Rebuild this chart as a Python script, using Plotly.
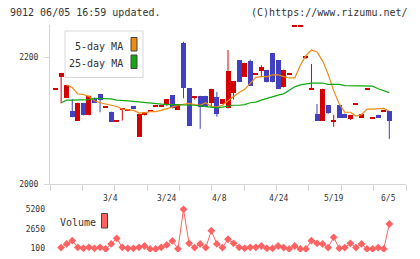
import plotly.graph_objects as go

# ---------------- data ----------------
candle_idx = list(range(-1, 60))
opens  = [2149, 2168, 2136, 2115, 2100, 2128, 2108, 2136, 2142, 2121, 2114,
          2100, 2118, 2116, 2123, 2074, 2108, 2115, 2122, 2122, 2126,
          2140, 2117, 2222, 2151, 2136, 2138, 2139, 2128, 2137, 2126,
          2119, 2144, 2195, 2169, 2194, 2174, 2178, 2180, 2206, 2195,
          2152, 2174, 2249, 2249, 2200, 2150, 2111, 2100, 2124, 2100,
          2124, 2111, 2102, 2126, 2104, 2150, 2104, 2109, 2115, 2115]
highs  = [2149, 2175, 2156, 2134, 2128, 2128, 2139, 2136, 2142, 2121, 2114,
          2100, 2118, 2116, 2123, 2111, 2113, 2115, 2124, 2124, 2134,
          2140, 2126, 2224, 2151, 2138, 2139, 2139, 2150, 2145, 2134,
          2211, 2162, 2195, 2191, 2196, 2174, 2187, 2180, 2206, 2195,
          2180, 2174, 2249, 2249, 2202, 2189, 2126, 2150, 2124, 2109,
          2124, 2111, 2109, 2126, 2110, 2150, 2104, 2109, 2115, 2115]
lows   = [2149, 2127, 2136, 2105, 2100, 2108, 2108, 2128, 2113, 2121, 2098,
          2100, 2100, 2116, 2118, 2074, 2108, 2115, 2122, 2122, 2123,
          2119, 2117, 2135, 2091, 2133, 2087, 2122, 2122, 2106, 2126,
          2119, 2133, 2161, 2169, 2155, 2174, 2170, 2160, 2160, 2150,
          2152, 2174, 2249, 2249, 2197, 2150, 2100, 2100, 2110, 2090,
          2104, 2104, 2101, 2126, 2104, 2150, 2104, 2104, 2115, 2071]
closes = [2149, 2175, 2156, 2105, 2128, 2108, 2139, 2128, 2133, 2121, 2098,
          2100, 2118, 2116, 2118, 2111, 2113, 2115, 2124, 2124, 2134,
          2119, 2126, 2151, 2091, 2138, 2122, 2122, 2150, 2111, 2134,
          2178, 2162, 2161, 2191, 2155, 2174, 2184, 2160, 2160, 2150,
          2180, 2174, 2249, 2249, 2200, 2150, 2100, 2150, 2112, 2100,
          2104, 2104, 2109, 2126, 2110, 2150, 2104, 2104, 2115, 2100]

day_idx = list(range(0, 60))
ma5  = [None, 2156, 2152, 2142, 2141, 2138, 2131, 2128, 2126, 2125,
        2122, 2118, 2117, 2116, 2112, 2112, 2114, 2114, 2116, 2118,
        2121, 2124, 2125, 2127, 2125, 2124, 2128, 2122, 2121, 2124,
        2131, 2138, 2144, 2149, 2159, 2168, 2169, 2169, 2172, 2172,
        2169, 2167, 2167, 2187, 2202, 2211, 2208, 2194, 2173, 2147,
        2126, 2113, 2113, 2107, 2109, 2118, 2118, 2119, 2119, 2115]
ma25 = [2128, 2132, 2132, 2132, 2132, 2133, 2135, 2135, 2134, 2134,
        2132, 2132, 2131, 2130, 2129, 2128, 2127, 2126, 2125, 2125,
        2125, 2125, 2125, 2124, 2124, 2123, 2122, 2121, 2120, 2121,
        2123, 2124, 2124, 2125, 2128, 2129, 2132, 2135, 2138, 2140,
        2142, 2147, 2153, 2156, 2158, 2159, 2159, 2159, 2157, 2157,
        2157, 2155, 2155, 2155, 2155, 2155, 2154, 2150, 2147, 2144]
volume = [190, 670, 1100, 230, 100, 230, 100, 230, 20, 670,
          1410, 230, 100, 100, 230, 400, 20, 20, 230, 540,
          1060, 30, 5200, 750, 190, 670, 190, 2410, 670, 190,
          1280, 750, 230, 100, 230, 230, 400, 100, 100, 400,
          190, 20, 400, 20, 20, 1100, 750, 670, 190, 1540,
          100, 190, 750, 190, 670, 20, 20, 190, 20, 3280]

date_labels = ["3/4", "3/24", "4/8", "4/24", "5/19", "6/5"]
date_label_pos = [8.9, 18.9, 28.4, 39.0, 48.9, 58.9]

# ---------------- style ----------------
RED = "#d40000"
BLUE = "#4040c0"
ORANGE = "#f08a10"
GREEN = "#12a812"
VOLC = "#ff6262"
AXC = "#d6d6d6"
TXT = "#333333"
MONO = "DejaVu Sans Mono"

W, H = 420, 259
L, R, T, B = 50, 14, 25, 7
PW, PH = W - L - R, H - T - B
X0, X1 = -2, 62
P0, P1 = 2000, 2250.4
V0, V1 = -384, 5762


def px(x):
    return (x - L) / PW


def py(y):
    return (H - B - y) / PH


price_dom = [py(184), 1]
vol_dom = [0, py(205)]
min_h = 2 * (P1 - P0) / 159.0

body_base, body_h, body_col = [], [], []
for o, c in zip(opens, closes):
    lo, hi = min(o, c), max(o, c)
    if hi - lo < min_h:
        mid = (hi + lo) / 2
        lo, hi = mid - min_h / 2, mid + min_h / 2
    body_base.append(lo)
    body_h.append(hi - lo)
    body_col.append(RED if c >= o else BLUE)

fig = go.Figure()

for col in (RED, BLUE):
    wx, wy = [], []
    for i, o, h, l, c in zip(candle_idx, opens, highs, lows, closes):
        if (RED if c >= o else BLUE) == col and h > l:
            wx += [i, i, None]
            wy += [l, h, None]
    fig.add_trace(go.Scatter(x=wx, y=wy, mode="lines", line=dict(color=col, width=1),
                             hoverinfo="skip", showlegend=False, xaxis="x", yaxis="y"))

fig.add_trace(go.Bar(x=candle_idx, y=body_h, base=body_base, width=0.9,
                     marker=dict(color=body_col, line=dict(width=0)),
                     showlegend=False, xaxis="x", yaxis="y"))

fig.add_trace(go.Scatter(x=day_idx, y=ma5, mode="lines", line=dict(color=ORANGE, width=1.2),
                         showlegend=False, xaxis="x", yaxis="y"))
fig.add_trace(go.Scatter(x=day_idx, y=ma25, mode="lines", line=dict(color=GREEN, width=1.2),
                         showlegend=False, xaxis="x", yaxis="y"))

fig.add_trace(go.Scatter(x=day_idx, y=volume, mode="lines+markers",
                         line=dict(color=VOLC, width=1),
                         marker=dict(symbol="diamond", size=6, color=VOLC),
                         showlegend=False, xaxis="x2", yaxis="y2"))

tickv = [X0 + k * (X1 - X0) / 11 for k in range(12)]

fig.update_layout(
    width=W, height=H, autosize=False, margin=dict(l=L, r=R, t=T, b=B, autoexpand=False),
    paper_bgcolor="white", plot_bgcolor="white",
    barmode="overlay", bargap=0,
    font=dict(family=MONO, size=8, color=TXT),
    xaxis=dict(domain=[0, 1], range=[X0, X1], anchor="y", showgrid=False, zeroline=False,
               automargin=False,
               showline=True, linecolor=AXC, linewidth=1, ticks="outside", ticklen=6,
               tickcolor=AXC, tickvals=tickv, showticklabels=False),
    yaxis=dict(domain=price_dom, range=[P0, P1], showgrid=False, zeroline=False,
               automargin=False,
               showline=True, linecolor=AXC, linewidth=1, ticks="outside", ticklen=5,
               tickcolor=AXC, tickvals=[2000, 2200], ticktext=["2000", "2200"],
               tickfont=dict(family=MONO, size=8, color=TXT), ticklabelstandoff=4),
    xaxis2=dict(domain=[0, 1], range=[X0, X1], anchor="y2", matches="x", showgrid=False,
                automargin=False,
                zeroline=False, showline=False, ticks="", showticklabels=False),
    yaxis2=dict(domain=vol_dom, range=[V0, V1], anchor="x2", showgrid=False, zeroline=False,
                automargin=False,
                showline=False, ticks="", tickvals=[100, 2650, 5200],
                ticktext=["100", "2650", "5200"],
                tickfont=dict(family=MONO, size=8, color=TXT), ticklabelstandoff=4),
)

ann = []
for lab, pos in zip(date_labels, date_label_pos):
    ann.append(dict(x=pos, y=py(198.3), xref="x", yref="paper", text=lab, showarrow=False,
                    xanchor="center", yanchor="middle",
                    font=dict(family=MONO, size=8, color=TXT)))
ann.append(dict(x=px(8), y=py(12.5), xref="paper", yref="paper",
                text="9012 06/05 16:59 updated.", showarrow=False, xanchor="left",
                yanchor="middle", font=dict(family=MONO, size=10, color=TXT)))
ann.append(dict(x=px(410), y=py(12.5), xref="paper", yref="paper",
                text="(C)https://www.rizumu.net/", showarrow=False, xanchor="right",
                yanchor="middle", font=dict(family=MONO, size=10, color=TXT)))
ann.append(dict(x=px(125), y=py(46), xref="paper", yref="paper", text="5-day MA",
                showarrow=False, xanchor="right", yanchor="middle",
                font=dict(family=MONO, size=10, color=TXT)))
ann.append(dict(x=px(125), y=py(63.5), xref="paper", yref="paper", text="25-day MA",
                showarrow=False, xanchor="right", yanchor="middle",
                font=dict(family=MONO, size=10, color=TXT)))
ann.append(dict(x=px(58), y=py(222), xref="paper", yref="paper", text="Volume",
                showarrow=False, xanchor="left", yanchor="middle",
                font=dict(family=MONO, size=10, color=TXT)))
fig.update_layout(annotations=ann)

shapes = [
    dict(type="rect", xref="paper", yref="paper", x0=px(65), x1=px(143), y0=py(77.5), y1=py(31),
         line=dict(color="#d8d8d8", width=1), fillcolor="white", layer="above"),
    dict(type="rect", xref="paper", yref="paper", x0=px(131), x1=px(137), y0=py(51), y1=py(37.5),
         line=dict(color="#444444", width=1), fillcolor=ORANGE, layer="above"),
    dict(type="rect", xref="paper", yref="paper", x0=px(131), x1=px(137), y0=py(68.5), y1=py(55),
         line=dict(color="#444444", width=1), fillcolor=GREEN, layer="above"),
    dict(type="rect", xref="paper", yref="paper", x0=px(101.5), x1=px(107.5), y0=py(228), y1=py(213.5),
         line=dict(color="#444444", width=1), fillcolor=VOLC, layer="above"),
]
fig.update_layout(shapes=shapes)

fig.write_html("out.html", config={"responsive": False, "displayModeBar": False})
